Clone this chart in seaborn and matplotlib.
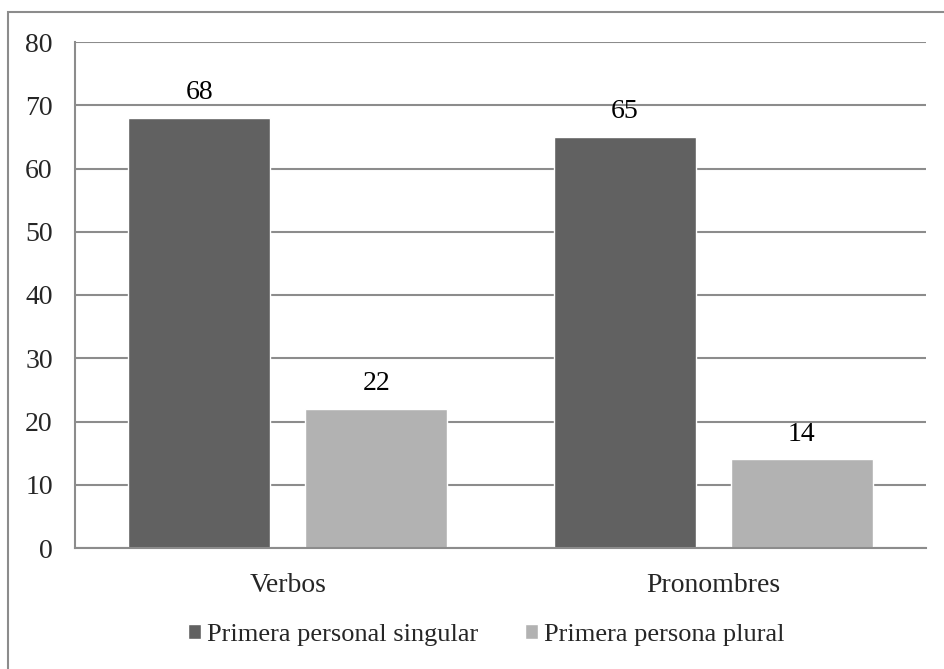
import pandas as pd
import seaborn as sns
import matplotlib.pyplot as plt
from matplotlib.patches import Rectangle

categorias = ["Verbos", "Pronombres"]
series = ["Primera personal singular", "Primera persona plural"]
singular = [68, 65]
plural = [22, 14]
colores = ["#616161", "#b2b2b2"]

df = pd.DataFrame({
    "categoria": categorias * 2,
    "serie": [series[0]] * 2 + [series[1]] * 2,
    "valor": singular + plural,
})

sns.set_theme(style="white")
plt.rcParams['font.family'] = ['Liberation Serif', 'DejaVu Serif']
fs = 20

fig = plt.figure(figsize=(9.44, 6.69), dpi=100)
ax = fig.add_axes([75 / 944, 1 - 548 / 669, (926 - 75) / 944, (548 - 42) / 669])

sns.barplot(data=df, x="categoria", y="valor", hue="serie", palette=colores,
            width=0.832, gap=0.198, ax=ax, legend=True, saturation=1)

# Etiquetas de datos
for cont in ax.containers:
    ax.bar_label(cont, padding=9, fontsize=fs, color="black")

ax.set_ylim(0, 80)
ax.set_yticks(range(0, 81, 10))
ax.yaxis.grid(True, color="#8c8c8c", linewidth=1.5)
ax.set_axisbelow(True)
for s in ["top", "right"]:
    ax.spines[s].set_visible(False)
for s in ["left", "bottom"]:
    ax.spines[s].set_color("#8c8c8c")
    ax.spines[s].set_linewidth(1.5)
ax.tick_params(axis="y", length=0, pad=16, labelsize=fs)
ax.tick_params(axis="x", length=0, pad=18, labelsize=fs)
ax.set_xlabel("")
ax.set_ylabel("")

ax.legend_.remove()
handles, labels = ax.get_legend_handles_labels()
fig.legend(handles, labels, loc="center", bbox_to_anchor=(0.515, 1 - 635 / 669),
           ncol=2, frameon=False, fontsize=19, handlelength=0.5, handleheight=0.5,
           handletextpad=0.22, columnspacing=1.8)

# Marco exterior del grafico
fig.patches.append(Rectangle((8 / 944, -0.1), 1.2, 1 - 12 / 669 + 0.1,
                             transform=fig.transFigure, fill=False,
                             edgecolor="#8c8c8c", linewidth=1.5))

fig.savefig("out.png", dpi=100)
